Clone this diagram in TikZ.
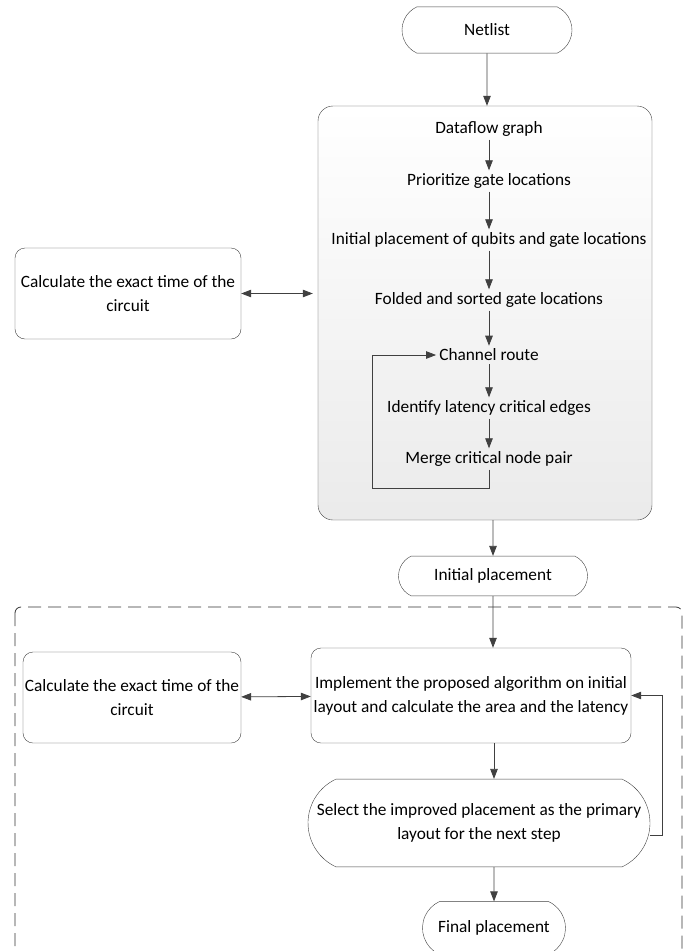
\documentclass[tikz,border=0pt]{standalone}
\usepackage{fontspec}
\setmainfont{Carlito}
\usepackage{tikz}
\usetikzlibrary{positioning,arrows.meta,shapes.misc,calc}
\definecolor{edge}{HTML}{404040}
\tikzset{
  terminal/.style = {draw=edge, rounded rectangle, rounded rectangle arc length=130,
                     align=center, inner xsep=0pt, font=\flowfont},
  process/.style  = {draw=edge, rounded corners=10pt, align=center, inner sep=0pt,
                     font=\flowfont},
  stage/.style    = {align=center, inner sep=3pt, font=\flowfont},
  arrow/.style    = {-{Triangle[length=10pt,width=7.5pt]}, edge, line width=0.8pt},
  dblarrow/.style = {{Triangle[length=10pt,width=7.5pt]}-{Triangle[length=10pt,width=7.5pt]},
                     edge, line width=0.8pt},
}
\newcommand{\flowfont}{\fontsize{17.3}{24}\selectfont}

\begin{document}
\begin{tikzpicture}[x=1pt, y=-1pt]
  \useasboundingbox (0,0) rectangle (686,951);
  \clip (0,0) rectangle (686,951);

  \node[terminal, minimum width=170pt, inner ysep=17pt] (netlist) at (487,30) {Netlist};

  % initial placement flow
  \node[draw=edge, rounded corners=15pt, top color=white, bottom color=gray!16,
        minimum width=334pt, minimum height=414pt] (flow) at (485,313) {};
  \node[stage] (dfg)   at (489,129) {Dataflow graph};
  \node[stage] (prio)  at (489,181) {Prioritize gate locations};
  \node[stage] (initq) at (489,240) {Initial placement of qubits and gate locations};
  \node[stage] (fold)  at (489,300) {Folded and sorted gate locations};
  \node[stage] (chan)  at (489,355) {Channel route};
  \node[stage] (crit)  at (489,408) {Identify latency critical edges};
  \node[stage] (merge) at (489,459) {Merge critical node pair};
  \coordinate (loop) at (372,488);

  \draw[arrow] (netlist) -- (netlist |- flow.north);
  \draw[arrow] (dfg) -- (prio);
  \draw[arrow] (prio) -- (initq);
  \draw[arrow] (initq) -- (fold);
  \draw[arrow] (fold) -- (chan);
  \draw[arrow] (chan) -- (crit);
  \draw[arrow] (crit) -- (merge);
  \draw[arrow] (merge.south) |- (loop) |- (chan.west);

  \node[process, minimum width=226pt, minimum height=91pt] (calcA) at (128,293.5)
       {Calculate the exact time of the\\circuit};
  \draw[dblarrow, shorten >=5pt] (calcA.east) -- (calcA.east -| flow.west);

  \node[terminal, minimum width=189pt, inner ysep=12.5pt] (initp) at (493,576) {Initial placement};
  \draw[arrow] (initp |- flow.south) -- (initp);

  % improvement loop
  \draw[black!80, line width=0.8pt, dash pattern=on 13pt off 7pt, rounded corners=6pt]
       (15,607) rectangle (682,990);
  \node[process, minimum width=320pt, minimum height=95pt] (implem) at (471,695.5)
       {Implement the proposed algorithm on initial\\layout and calculate the area and the latency};
  \node[process, minimum width=218pt, minimum height=91pt] (calcB) at (132,697.5)
       {Calculate the exact time of the\\circuit};
  \node[terminal, minimum width=342pt, inner ysep=24.5pt] (select) at (479,823)
       {Select the improved placement as the primary\\layout for the next step};
  \node[terminal, minimum width=143pt, inner ysep=19pt] (finalp) at (494,928) {Final placement};

  \draw[arrow] (initp) -- (initp |- implem.north);
  \draw[dblarrow] (calcB) -- (implem);
  \draw[arrow] (finalp |- implem.south) -- (finalp |- select.north);
  \draw[arrow] ([yshift=-12pt]select.east) -- ++(12,0) |- (implem.east);
  \draw[arrow] (finalp |- select.south) -- (finalp);
\end{tikzpicture}
\end{document}
